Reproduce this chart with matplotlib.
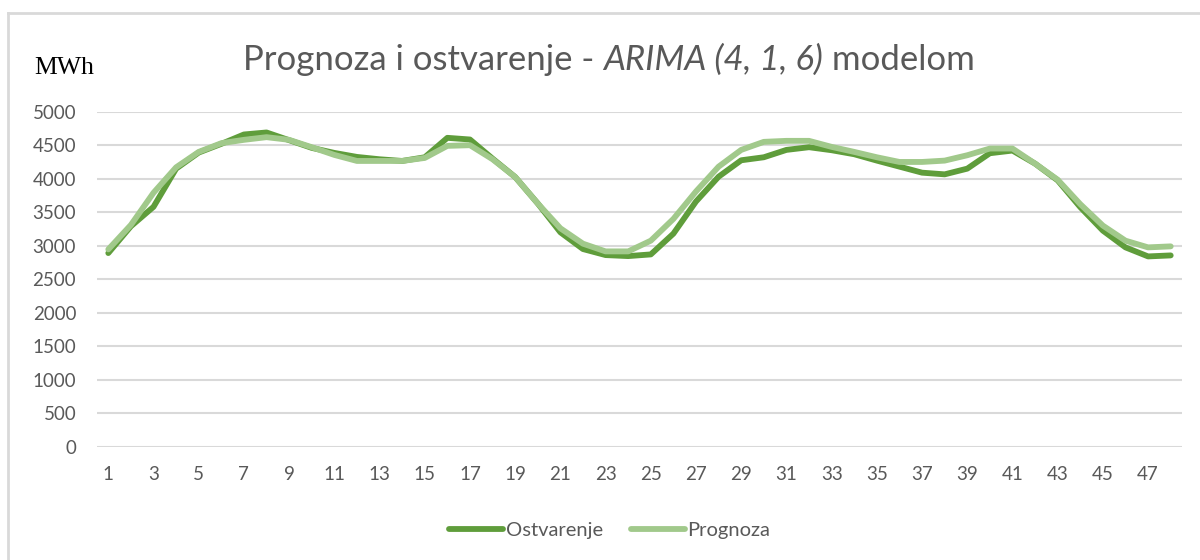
import matplotlib.pyplot as plt
from matplotlib.lines import Line2D

hours = list(range(1, 49))

ostvarenje = [2890, 3290, 3580, 4150, 4390, 4520, 4660, 4690, 4575, 4460,
              4385, 4325, 4290, 4265, 4320, 4610, 4585, 4300, 4025, 3630,
              3200, 2950, 2860, 2845, 2870, 3180, 3660, 4030, 4275, 4320,
              4430, 4470, 4425, 4365, 4270, 4180, 4090, 4065, 4150, 4380,
              4420, 4225, 3975, 3575, 3225, 2975, 2840, 2855]

prognoza = [2945, 3310, 3790, 4170, 4400, 4530, 4580, 4620, 4580, 4470,
            4355, 4265, 4265, 4265, 4310, 4490, 4500, 4290, 4025, 3630,
            3260, 3030, 2915, 2915, 3075, 3400, 3810, 4180, 4430, 4550,
            4565, 4565, 4475, 4400, 4320, 4250, 4250, 4270, 4350, 4450,
            4450, 4225, 3985, 3620, 3300, 3075, 2975, 2990]

y_ticks = list(range(0, 5001, 500))
x_labels = [str(h) for h in hours[::2]]

dark = '#5F9D3B'
light = '#A1C98B'
grey_text = '#595959'
grid_col = '#D9D9D9'

fig = plt.figure(figsize=(12, 5.6), dpi=100)
ax = fig.add_axes([97 / 1200, 1 - 446.7 / 560, (1182 - 97) / 1200, (446.7 - 111.7) / 560])

ax.plot(hours, ostvarenje, color=dark, lw=4.2, solid_capstyle='round', solid_joinstyle='round', label='Ostvarenje')
ax.plot(hours, prognoza, color=light, lw=4.2, solid_capstyle='round', solid_joinstyle='round', label='Prognoza')

ax.set_xlim(0.5, 48.5)
ax.set_ylim(0, 5000)
ax.set_yticks(y_ticks)
ax.set_xticks(hours[::2])
ax.set_xticklabels(x_labels)
ax.yaxis.grid(True, color=grid_col, lw=1.5)
ax.set_axisbelow(True)
for s in ax.spines.values():
    s.set_visible(False)
ax.tick_params(length=0, labelsize=13.5, labelcolor=grey_text)
ax.tick_params(axis='y', pad=15)
ax.tick_params(axis='x', pad=14)
for lab in ax.get_xticklabels() + ax.get_yticklabels():
    lab.set_family('Lato')

# title: plain + italic + plain pieces, centred as a whole
title_y = 1 - 60 / 560
fs = 25
parts = [('Prognoza i ostvarenje - ', 'normal'), ('ARIMA (4, 1, 6)', 'italic'), (' modelom', 'normal')]
texts = []
x = 0
renderer = fig.canvas.get_renderer()
for s, st in parts:
    t = fig.text(x, title_y, s, ha='left', va='center', fontsize=fs,
                 color=grey_text, family='Lato', style=st)
    bb = t.get_window_extent(renderer)
    texts.append(t)
    x = bb.x1 / 1200
total = x
x0 = 609 / 1200 - total / 2
x = x0
for t in texts:
    t.set_x(x)
    x = t.get_window_extent(renderer).x1 / 1200

fig.text(34 / 1200, 1 - 68 / 560, 'MWh', ha='left', va='center',
         fontsize=18.5, color='black', family='Liberation Serif')

leg = fig.legend(loc='center', bbox_to_anchor=(0.508, 1 - 530 / 560), ncol=2,
                 frameon=False, fontsize=14.5, handlelength=2.7, columnspacing=1.4,
                 handletextpad=0.1)
for t in leg.get_texts():
    t.set_color(grey_text)
    t.set_family('Lato')

fig.add_artist(Line2D([8 / 1200, 8 / 1200], [0, 1 - 13 / 560], color=grid_col, lw=2))
fig.add_artist(Line2D([8 / 1200, 1], [1 - 13 / 560, 1 - 13 / 560], color=grid_col, lw=2))

fig.savefig('out.png', dpi=100)
